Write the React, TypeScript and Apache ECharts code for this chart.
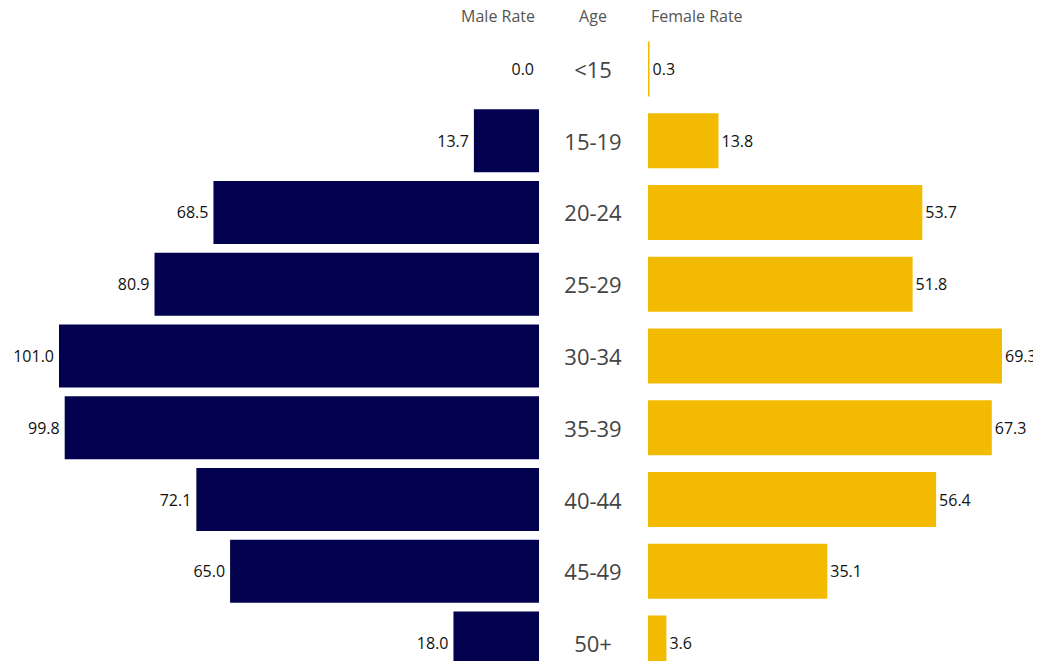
import React, { useEffect, useRef } from "react";
import * as echarts from "echarts";

const ageGroups = ["<15", "15-19", "20-24", "25-29", "30-34", "35-39", "40-44", "45-49", "50+"];
const maleRates = [0.0, 13.7, 68.5, 80.9, 101.0, 99.8, 72.1, 65.0, 18.0];
const femaleRates = [0.3, 13.8, 53.7, 51.8, 69.3, 67.3, 56.4, 35.1, 3.6];
const headers = { male: "Male Rate", age: "Age", female: "Female Rate" };
const titleText = "Age-Specific Rates of Newly Diagnosed Infectious Syphilis Cases per 100,000 Population, by Age Group and Sex, 2022";

const FONT = "'Open Sans', 'Noto Sans', sans-serif";
const MALE_COLOR = "#02024f";
const FEMALE_COLOR = "#f2ba00";

export default function App() {
  const ref = useRef<HTMLDivElement>(null);
  useEffect(() => {
    if (!ref.current) return;
    const chart = echarts.init(ref.current, null, { renderer: "svg" });
    const fmt = (p: any) => Number(p.value).toFixed(1);
    chart.setOption({
      animation: false,
      backgroundColor: "#ffffff",
      textStyle: { fontFamily: FONT },
      grid: [
        { left: 59, width: 480, top: 33, height: 646, outerBoundsMode: "none", containLabel: false },
        { left: 648, width: 354, top: 33, height: 646, outerBoundsMode: "none", containLabel: false },
      ],
      xAxis: [
        { type: "value", gridIndex: 0, min: 0, max: 101, inverse: true, show: false },
        { type: "value", gridIndex: 1, min: 0, max: 69.3, show: false },
      ],
      yAxis: [
        { type: "category", gridIndex: 0, data: ageGroups, inverse: true, show: false },
        {
          type: "category",
          gridIndex: 1,
          data: ageGroups,
          inverse: true,
          position: "left",
          axisLine: { show: false },
          axisTick: { show: false },
          splitLine: { show: false },
          axisLabel: {
            show: true,
            align: "center",
            margin: 55,
            fontSize: 22,
            color: "#444444",
            fontFamily: FONT,
          },
        },
      ],
      graphic: [
        {
          type: "text",
          x: 8,
          y: 3,
          style: { text: titleText, fontSize: 24, fill: "#1d3a8a", fontFamily: FONT, verticalAlign: "bottom" },
          silent: true,
        },
        {
          type: "text",
          x: 535,
          y: 16,
          style: { text: headers.male, fontSize: 16, fill: "#555555", fontFamily: FONT, align: "right", verticalAlign: "middle" },
        },
        {
          type: "text",
          x: 593,
          y: 16,
          style: { text: headers.age, fontSize: 16, fill: "#555555", fontFamily: FONT, align: "center", verticalAlign: "middle" },
        },
        {
          type: "text",
          x: 651,
          y: 16,
          style: { text: headers.female, fontSize: 16, fill: "#555555", fontFamily: FONT, align: "left", verticalAlign: "middle" },
        },
      ],
      series: [
        {
          type: "bar",
          xAxisIndex: 0,
          yAxisIndex: 0,
          data: maleRates,
          barWidth: 63,
          itemStyle: { color: MALE_COLOR },
          label: {
            show: true,
            position: "left",
            distance: 5,
            formatter: fmt,
            fontSize: 16,
            color: "#111111",
            fontFamily: FONT,
          },
        },
        {
          type: "bar",
          xAxisIndex: 1,
          yAxisIndex: 1,
          data: femaleRates,
          barWidth: 55,
          barMinWidth: 2,
          itemStyle: { color: FEMALE_COLOR },
          label: {
            show: true,
            position: "right",
            distance: 3,
            formatter: fmt,
            fontSize: 16,
            color: "#111111",
            fontFamily: FONT,
          },
        },
      ],
    });
    return () => chart.dispose();
  }, []);
  return <div ref={ref} style={{ width: 1041, height: 669, margin: -8 }} />;
}
